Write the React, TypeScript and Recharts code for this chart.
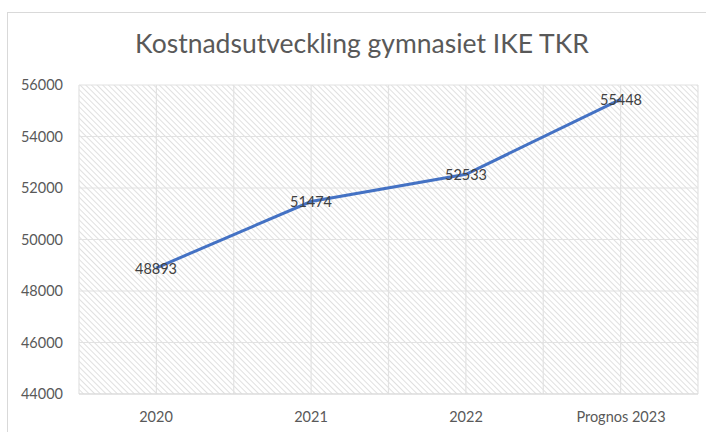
import React from 'react';
import { LineChart, Line, XAxis, YAxis, CartesianGrid } from 'recharts';

const years = ['2020', '2021', '2022', 'Prognos 2023'];
const costs = [48893, 51474, 52533, 55448];
const yTicks = [44000, 46000, 48000, 50000, 52000, 54000, 56000];

const data = years.map((year, i) => ({ year, cost: costs[i] }));

const FONT = 'Lato, "Open Sans", sans-serif';

const renderLabel = (props: any) => {
  const { x, y, value } = props;
  return (
    <text x={x} y={y} textAnchor="middle" dominantBaseline="central" fill="#404040" fontSize={14.5} fontFamily={FONT}>
      {value}
    </text>
  );
};

// gridlines at every half category (Excel-style minor + major)
const verticalGrid = ({ offset }: any) => {
  const pts: number[] = [];
  for (let i = 0; i <= years.length * 2; i++) pts.push(offset.left + (i * offset.width) / (years.length * 2));
  return pts;
};

export default function App() {
  return (
    <div style={{ position: 'absolute', left: 0, top: 0, width: 706, height: 432, background: '#fff', overflow: 'hidden', fontFamily: FONT }}>
      <svg width={0} height={0} style={{ position: 'absolute' }}>
        <defs>
          <pattern id="hatch" width={4} height={4} patternUnits="userSpaceOnUse" patternTransform="rotate(-45)">
            <rect width={4} height={4} fill="#ffffff" />
            <line x1={0} y1={0} x2={0} y2={4} stroke="#d8d8d8" strokeWidth={1.6} />
          </pattern>
        </defs>
      </svg>
      <div style={{ position: 'absolute', left: 7, top: 12, width: 720, height: 440, border: '1px solid #d9d9d9' }} />
      <div style={{ position: 'absolute', left: 0, top: 27, width: 724, textAlign: 'center', fontSize: 26.5, color: '#595959' }}>
        Kostnadsutveckling gymnasiet IKE TKR
      </div>
      <div style={{ position: 'absolute', left: 0, top: 0 }}>
        <LineChart width={706} height={432} data={data} margin={{ top: 85, right: 8, bottom: 0, left: 0 }}>
          <CartesianGrid fill="url(#hatch)" stroke="#e2e2e2" strokeWidth={1.2} verticalCoordinatesGenerator={verticalGrid} />
          <XAxis
            dataKey="year"
            axisLine={{ stroke: '#d9d9d9' }}
            tickLine={false}
            padding={{ left: 77, right: 77 }}
            tick={{ fill: '#595959', fontSize: 14.5, fontFamily: FONT }}
            tickMargin={12}
            height={38}
          />
          <YAxis
            domain={[44000, 56000]}
            ticks={yTicks}
            axisLine={false}
            tickLine={false}
            tickSize={0}
            tickMargin={16}
            width={79}
            tick={{ fill: '#595959', fontSize: 14.5, fontFamily: FONT }}
          />
          <Line
            dataKey="cost"
            stroke="#4472C4"
            strokeWidth={3}
            dot={false}
            isAnimationActive={false}
            label={renderLabel}
          />
        </LineChart>
      </div>
    </div>
  );
}
